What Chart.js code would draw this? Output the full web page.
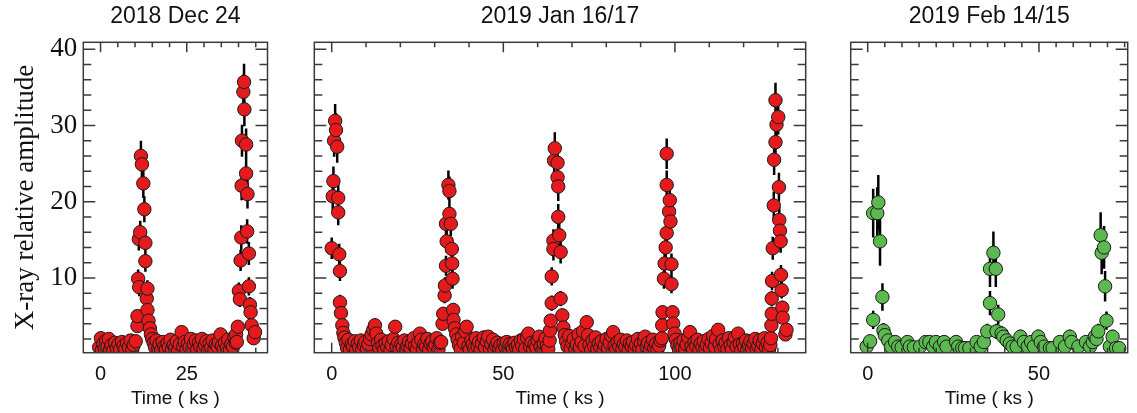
<!DOCTYPE html>
<html>
<head>
<meta charset="utf-8">
<script src="https://cdn.jsdelivr.net/npm/chart.js@4/dist/chart.umd.min.js"></script>
<style>
  body { margin: 0; background: #fff; }
  #wrap { position: relative; width: 1137px; height: 413px; }
  #wrap canvas { position: absolute; top: 0; }
</style>
</head>
<body>
<div id="wrap">
  <canvas id="dec24" width="290" height="413" style="left:0px"></canvas>
  <canvas id="jan16" width="530" height="413" style="left:290px"></canvas>
  <canvas id="feb14" width="317" height="413" style="left:820px"></canvas>
</div>
<script>
// ---- data (time in ks, relative amplitude, 1-sigma error) ----
const yTicks = [10, 20, 30, 40];

// 2018 Dec 24
const dec24Time = [
  -0.4, 0.1, 0.4, 0.8, 1.2, 1.6, 2.0, 2.4, 2.8, 3.2, 3.7, 4.2, 4.7, 5.2, 5.7, 6.2, 6.7, 7.2, 7.7, 8.2, 8.7, 9.2, 9.6,
  10.2, 10.7, 10.7, 10.9, 11.1, 11.2, 11.5, 11.7, 12.0, 12.4, 12.7, 13.0, 13.0, 13.4, 13.6, 13.6, 13.9, 14.3, 14.6, 15.0, 15.4, 15.8,
  16.2, 16.7, 17.1, 17.6, 18.0, 18.5, 18.9, 19.4, 19.8, 20.3, 20.7, 21.2, 21.6, 22.1, 22.5, 23.0, 23.5, 24.0, 24.4, 24.9,
  25.3, 25.8, 26.2, 26.7, 27.1, 27.6, 28.0, 28.5, 28.9, 29.4, 29.8, 30.3, 30.7, 31.2, 31.6, 32.1, 32.5, 33.0, 33.4, 33.9,
  34.3, 34.8, 35.2, 35.7, 36.1, 36.6, 37.0, 37.5, 37.9, 38.4, 38.8, 39.2,
  39.3, 39.5, 39.8, 40.1, 40.4, 40.6, 40.8, 40.9, 41.0, 41.4, 41.6, 41.7, 42.2, 42.2, 42.5, 42.6, 43.0, 43.0, 43.3, 43.5, 43.8, 44.4, 44.8
];
const dec24Amp = [
  0.9, 2.1, 0.5, 1.4, 0.7, 1.8, 1.0, 2.0, 0.6, 1.2, 0.5, 1.5, 0.8, 1.3, 0.6, 1.6, 1.1, 0.7, 1.5, 0.9, 1.8, 0.6, 1.2,
  1.7, 3.7, 5.0, 9.9, 15.1, 8.8, 16.0, 26.0, 24.9, 22.4, 19.0, 14.6, 12.2, 7.3, 8.6, 5.8, 4.4, 3.4, 2.6, 2.0, 1.5, 0.9,
  1.8, 0.7, 1.3, 0.5, 1.6, 1.0, 0.6, 1.4, 0.9, 1.9, 0.6, 1.2, 0.8, 1.7, 0.5, 1.3, 2.9, 1.0, 1.6, 0.6,
  1.4, 0.9, 2.0, 0.7, 1.3, 1.8, 0.6, 1.5, 1.0, 2.0, 0.7, 1.2, 1.7, 0.5, 1.4, 0.9, 1.8, 0.6, 1.3, 1.0,
  1.6, 2.6, 1.1, 0.7, 1.5, 0.8, 1.9, 0.6, 1.3, 1.0, 2.2, 1.5,
  2.6, 1.6, 3.6, 8.3, 7.2, 12.3, 15.3, 22.1, 28.0, 34.4, 35.7, 32.1, 27.5, 23.7, 16.1, 21.0, 13.2, 8.9, 6.5, 5.5, 3.8, 2.1, 2.9
];
const dec24Err = [
  0.5, 0.5, 0.5, 0.5, 0.5, 0.5, 0.5, 0.5, 0.5, 0.5, 0.5, 0.5, 0.5, 0.5, 0.5, 0.5, 0.5, 0.5, 0.5, 0.5, 0.5, 0.5, 0.5,
  0.5, 0.7, 0.8, 1.2, 1.5, 1.2, 1.5, 2.0, 2.0, 1.9, 1.7, 1.5, 1.4, 1.0, 1.1, 0.9, 0.8, 0.7, 0.6, 0.5, 0.5, 0.5,
  0.5, 0.5, 0.5, 0.5, 0.5, 0.5, 0.5, 0.5, 0.5, 0.5, 0.5, 0.5, 0.5, 0.5, 0.5, 0.5, 0.7, 0.5, 0.5, 0.5,
  0.5, 0.5, 0.5, 0.5, 0.5, 0.5, 0.5, 0.5, 0.5, 0.5, 0.5, 0.5, 0.5, 0.5, 0.5, 0.5, 0.5, 0.5, 0.5, 0.5,
  0.5, 0.7, 0.5, 0.5, 0.5, 0.5, 0.5, 0.5, 0.5, 0.5, 0.5, 0.5,
  0.6, 0.5, 0.7, 1.1, 1.0, 1.4, 1.6, 1.9, 2.1, 2.3, 2.4, 2.2, 2.1, 2.0, 1.6, 1.9, 1.5, 1.2, 1.0, 0.9, 0.7, 0.6, 0.6
];

// 2019 Jan 16/17
const jan16Time = [
  0.0, 0.3, 0.5, 0.7, 1.0, 1.25, 1.6, 1.9, 1.9, 2.2, 2.4, 2.4, 2.7, 3.1, 3.4, 3.7,
  4.1, 4.5, 4.9, 5.3, 5.8, 6.2, 6.7, 7.1, 7.6, 8.0, 8.5, 8.9, 9.4, 9.8, 10.3, 10.7, 11.2, 11.6, 12.1, 12.6,
  13.0, 13.5, 13.9, 14.4, 14.8, 15.3, 15.7, 16.2, 16.6, 17.1, 17.5, 18.0, 18.5, 18.9, 19.4, 19.8, 20.3, 20.7, 21.2, 21.6,
  22.1, 22.5, 23.0, 23.4, 23.9, 24.3, 24.8, 25.2, 25.7, 26.1, 26.6, 27.0, 27.5, 27.9, 28.4, 28.8, 29.3, 29.7, 30.2, 30.6,
  31.1, 31.5, 31.9,
  32.3, 32.5, 32.9, 33.0, 33.3, 33.3, 33.5, 34.0, 34.3, 34.3, 34.7, 35.0, 35.1, 35.2, 35.4, 35.5, 35.9, 36.3,
  36.7, 37.1, 37.6, 38.0, 38.5, 38.9, 39.3, 39.8, 40.2, 40.7, 41.1, 41.6, 42.0, 42.5, 42.9, 43.4, 43.8, 44.3, 44.7, 45.2,
  45.6, 46.1, 46.5, 47.0, 47.4, 47.9, 48.3, 48.8, 49.2, 49.7, 50.1, 50.6, 51.0, 51.5, 51.9, 52.4, 52.8, 53.3, 53.7, 54.2,
  54.6, 55.1, 55.5, 56.0, 56.4, 56.9, 57.3, 57.8, 58.2, 58.7, 59.1, 59.6, 60.0, 60.5, 60.9, 61.4, 61.8, 62.3, 62.7, 63.1,
  63.5, 63.6, 63.8, 64.1, 64.1, 64.6, 64.6, 64.8, 65.0, 65.8, 65.8, 66.0, 66.0, 66.3, 66.7, 66.7, 67.2, 67.5, 67.9,
  68.3, 68.7, 69.2, 69.6, 70.1, 70.5, 71.0, 71.4, 71.9, 72.3, 72.8, 73.2, 73.7, 74.3, 74.7, 75.1, 75.6, 76.0, 76.5, 76.9,
  77.4, 77.8, 78.3, 78.7, 79.2, 79.6, 80.1, 80.5, 81.0, 81.5, 82.0, 82.4, 82.9, 83.3, 83.8, 84.2, 84.7, 85.1, 85.6, 86.0,
  86.5, 86.9, 87.4, 87.8, 88.3, 88.7, 89.2, 89.6, 90.1, 90.5, 91.0, 91.3, 91.8, 92.2, 92.7, 93.1, 93.6, 94.0, 94.5, 94.9,
  95.4, 95.8,
  96.2, 96.3, 96.4, 96.8, 97.0, 97.3, 97.6, 97.6, 97.6, 98.3, 98.5, 98.7, 99.0, 99.0, 99.3, 99.5, 99.9, 100.3,
  100.7, 101.2, 101.6, 102.1, 102.5, 103.0, 103.4, 103.9, 104.4, 104.8, 105.3, 105.7, 106.2, 106.6, 107.1, 107.5, 108.0, 108.4, 108.9, 109.3,
  109.8, 110.2, 110.7, 111.1, 111.6, 112.0, 112.6, 113.0, 113.5, 113.9, 114.4, 114.8, 115.3, 115.7, 116.2, 116.6, 117.1, 117.5, 118.0, 118.4,
  118.9, 119.3, 119.8, 120.2, 120.7, 121.1, 121.6, 122.0, 122.5, 122.9, 123.4, 123.8, 124.3, 124.7, 125.2, 125.6, 126.1, 126.5, 127.0, 127.4,
  127.8,
  128.0, 128.1, 128.2, 128.2, 128.3, 128.5, 128.8, 128.9, 129.3, 129.3, 129.6, 130.1, 130.3, 130.4, 130.6, 130.8, 130.9, 131.1, 131.3, 131.4, 132.2, 132.5
];
const jan16Amp = [
  13.9, 20.7, 22.7, 28.0, 30.6, 29.4, 27.2, 20.5, 18.6, 13.1, 10.9, 6.8, 5.4, 3.8, 2.8, 2.2,
  1.5, 0.8, 1.9, 0.6, 1.3, 1.0, 1.7, 0.5, 1.4, 0.9, 1.8, 0.6, 1.2, 1.6, 0.7, 1.3, 2.0, 2.6, 3.2, 3.8,
  2.7, 1.5, 0.8, 1.9, 1.1, 0.6, 1.4, 0.9, 1.7, 0.5, 1.2, 2.0, 3.6, 1.0, 1.5, 0.7, 1.3, 0.9, 1.8, 0.5,
  1.1, 1.6, 0.8, 1.4, 2.1, 1.0, 0.6, 1.5, 2.7, 1.9, 0.7, 1.3, 1.0, 2.0, 0.6, 1.4, 1.7, 0.9, 1.2, 2.1,
  0.6, 1.5, 1.6,
  4.0, 5.3, 7.7, 9.0, 11.6, 17.1, 14.8, 22.2, 21.4, 18.4, 17.1, 13.8, 11.9, 9.9, 5.8, 4.5, 3.4, 2.6,
  1.9, 1.2, 0.7, 2.3, 1.5, 3.0, 3.6, 1.1, 0.6, 1.8, 1.3, 0.8, 2.1, 1.0, 1.6, 0.5, 1.4, 2.2, 0.9, 1.7,
  2.3, 0.7, 1.3, 1.9, 0.6, 1.1, 1.5, 0.8, 1.2, 0.5, 1.4, 0.9, 1.6, 0.6, 1.3, 1.0, 0.7, 1.5, 0.9, 1.2,
  0.6, 1.8, 1.1, 2.0, 0.7, 2.2, 2.7, 1.0, 1.5, 0.6, 1.3, 0.9, 1.8, 2.3, 1.0, 0.5, 1.4, 2.1, 1.1, 0.7,
  1.8, 3.1, 4.4, 6.7, 10.2, 14.9, 13.8, 25.4, 27.0, 25.1, 23.2, 22.0, 18.0, 15.6, 13.4, 7.3, 5.1, 3.5, 2.5,
  1.7, 1.0, 2.4, 0.8, 1.5, 2.0, 0.6, 1.3, 2.6, 0.9, 1.6, 3.0, 1.1, 4.2, 2.5, 1.2, 0.6, 1.8, 1.0, 2.2,
  0.7, 1.4, 0.9, 1.7, 0.5, 1.2, 2.0, 0.8, 1.5, 2.4, 2.9, 1.1, 0.6, 1.6, 1.0, 1.9, 0.7, 1.3, 0.9, 1.8,
  0.5, 1.4, 1.0, 1.6, 0.7, 1.2, 2.0, 0.8, 1.4, 0.6, 1.7, 2.3, 1.0, 1.5, 0.6, 1.2, 1.9, 0.8, 1.4, 0.6,
  1.1, 1.8,
  2.1, 3.8, 5.5, 9.9, 11.9, 14.0, 15.9, 22.2, 26.3, 18.7, 20.2, 17.4, 11.8, 9.2, 5.5, 4.0, 2.7, 1.9,
  1.2, 0.6, 1.5, 0.9, 1.8, 0.7, 1.3, 2.2, 2.9, 1.0, 0.6, 1.6, 1.1, 1.9, 0.5, 1.4, 0.9, 1.7, 0.7, 1.2,
  2.0, 0.8, 1.5, 2.4, 1.0, 2.0, 3.2, 1.3, 0.6, 1.8, 1.0, 1.5, 0.7, 2.1, 1.2, 0.6, 1.6, 2.2, 1.0, 2.7,
  1.3, 0.5, 1.4, 0.9, 1.8, 0.6, 1.2, 1.7, 0.8, 1.4, 2.0, 0.7, 1.1, 1.8, 0.6, 1.4, 2.1, 0.9, 1.5, 0.6,
  1.2,
  2.1, 3.8, 5.3, 7.3, 9.6, 13.9, 19.5, 25.5, 27.8, 33.3, 30.1, 31.1, 21.9, 17.6, 16.2, 14.8, 10.4, 8.4, 6.1, 4.8, 2.6, 3.2
];
const jan16Err = [
  1.4, 1.8, 1.9, 2.1, 2.2, 2.2, 2.1, 1.8, 1.7, 1.4, 1.3, 1.0, 0.9, 0.7, 0.6, 0.5,
  0.5, 0.5, 0.5, 0.5, 0.5, 0.5, 0.5, 0.5, 0.5, 0.5, 0.5, 0.5, 0.5, 0.5, 0.5, 0.5, 0.5, 0.7, 0.7, 0.8,
  0.7, 0.5, 0.5, 0.5, 0.5, 0.5, 0.5, 0.5, 0.5, 0.5, 0.5, 0.5, 0.8, 0.5, 0.5, 0.5, 0.5, 0.5, 0.5, 0.5,
  0.5, 0.5, 0.5, 0.5, 0.5, 0.5, 0.5, 0.5, 0.7, 0.5, 0.5, 0.5, 0.5, 0.5, 0.5, 0.5, 0.5, 0.5, 0.5, 0.5,
  0.5, 0.5, 0.5,
  0.7, 0.9, 1.0, 1.1, 1.3, 1.6, 1.5, 1.9, 1.9, 1.7, 1.6, 1.5, 1.4, 1.3, 0.9, 0.8, 0.7, 0.6,
  0.5, 0.5, 0.5, 0.5, 0.5, 0.7, 0.8, 0.5, 0.5, 0.5, 0.5, 0.5, 0.5, 0.5, 0.5, 0.5, 0.5, 0.5, 0.5, 0.5,
  0.5, 0.5, 0.5, 0.5, 0.5, 0.5, 0.5, 0.5, 0.5, 0.5, 0.5, 0.5, 0.5, 0.5, 0.5, 0.5, 0.5, 0.5, 0.5, 0.5,
  0.5, 0.5, 0.5, 0.5, 0.5, 0.5, 0.7, 0.5, 0.5, 0.5, 0.5, 0.5, 0.5, 0.5, 0.5, 0.5, 0.5, 0.5, 0.5, 0.5,
  0.5, 0.6, 0.8, 1.0, 1.2, 1.5, 1.5, 2.0, 2.1, 2.0, 2.0, 1.9, 1.7, 1.6, 1.5, 1.0, 0.9, 0.7, 0.6,
  0.5, 0.5, 0.5, 0.5, 0.5, 0.5, 0.5, 0.5, 0.7, 0.5, 0.5, 0.7, 0.5, 0.9, 0.7, 0.5, 0.5, 0.5, 0.5, 0.5,
  0.5, 0.5, 0.5, 0.5, 0.5, 0.5, 0.5, 0.5, 0.5, 0.5, 0.7, 0.5, 0.5, 0.5, 0.5, 0.5, 0.5, 0.5, 0.5, 0.5,
  0.5, 0.5, 0.5, 0.5, 0.5, 0.5, 0.5, 0.5, 0.5, 0.5, 0.5, 0.5, 0.5, 0.5, 0.5, 0.5, 0.5, 0.5, 0.5, 0.5,
  0.5, 0.5,
  0.5, 0.7, 0.9, 1.3, 1.4, 1.5, 1.6, 1.9, 2.0, 1.7, 1.8, 1.7, 1.4, 1.2, 0.9, 0.8, 0.6, 0.5,
  0.5, 0.5, 0.5, 0.5, 0.5, 0.5, 0.5, 0.5, 0.7, 0.5, 0.5, 0.5, 0.5, 0.5, 0.5, 0.5, 0.5, 0.5, 0.5, 0.5,
  0.5, 0.5, 0.5, 0.5, 0.5, 0.5, 0.8, 0.5, 0.5, 0.5, 0.5, 0.5, 0.5, 0.5, 0.5, 0.5, 0.5, 0.5, 0.5, 0.7,
  0.5, 0.5, 0.5, 0.5, 0.5, 0.5, 0.5, 0.5, 0.5, 0.5, 0.5, 0.5, 0.5, 0.5, 0.5, 0.5, 0.5, 0.5, 0.5, 0.5,
  0.5,
  0.5, 0.7, 0.9, 1.0, 1.2, 1.5, 1.8, 2.0, 2.1, 2.3, 2.2, 2.3, 1.9, 1.7, 1.6, 1.5, 1.3, 1.1, 0.9, 0.8, 0.6, 0.7
];

// 2019 Feb 14/15
const feb14Time = [
  -0.3, 0.7, 1.6, 1.6, 2.8, 3.1, 3.6, 4.3, 4.6, 5.0, 6.0, 6.8, 8.0, 8.9, 9.9, 11.6, 12.3, 13.5, 15.3, 16.9,
  18.0, 19.1, 19.9, 21.1, 22.3, 23.0, 25.8, 26.4, 27.6, 28.4, 29.7, 31.8, 33.0, 33.9, 34.9, 35.7, 35.7, 36.7, 37.4, 37.6,
  38.1, 39.1, 39.6, 40.6, 41.5, 42.3, 43.5, 44.6, 45.6, 46.7, 47.7, 48.5, 49.8, 50.5, 51.5, 53.2, 54.0, 56.1, 57.6, 59.0,
  59.5, 61.5, 63.7, 64.9, 65.7, 66.3, 66.8, 67.3, 68.0, 68.3, 69.0, 69.3, 69.7, 70.7, 71.5, 72.5, 73.4
];
const feb14Amp = [
  1.0, 1.7, 4.5, 18.5, 18.5, 19.9, 14.8, 7.5, 3.1, 2.5, 1.8, 1.0, 1.6, 1.0, 0.9, 1.6, 1.0, 0.9, 1.0, 1.6,
  1.6, 1.0, 1.6, 1.0, 1.6, 1.0, 1.6, 1.0, 0.8, 0.8, 0.8, 1.6, 1.0, 1.6, 3.0, 6.7, 11.2, 13.3, 11.2, 3.0,
  5.2, 2.7, 2.3, 1.8, 1.4, 1.0, 1.0, 2.3, 1.6, 1.0, 1.6, 1.0, 2.3, 1.6, 1.0, 0.8, 0.8, 1.6, 1.0, 2.3,
  1.6, 1.0, 1.6, 1.0, 1.6, 2.3, 2.0, 3.0, 15.6, 13.3, 14.0, 8.9, 4.4, 1.0, 2.3, 0.8, 0.8
];
const feb14Err = [
  0.6, 0.7, 1.2, 3.2, 3.4, 3.6, 3.2, 1.8, 1.0, 0.9, 0.8, 0.7, 0.8, 0.7, 0.7, 0.8, 0.7, 0.7, 0.7, 0.8,
  0.8, 0.7, 0.8, 0.7, 0.8, 0.7, 0.8, 0.7, 0.6, 0.6, 0.6, 0.8, 0.7, 0.8, 1.0, 1.6, 2.4, 2.8, 2.4, 1.0,
  1.3, 1.0, 0.9, 0.8, 0.8, 0.7, 0.7, 0.9, 0.8, 0.7, 0.8, 0.7, 0.9, 0.8, 0.7, 0.6, 0.6, 0.8, 0.7, 0.9,
  0.8, 0.7, 0.8, 0.7, 0.8, 0.9, 0.8, 1.0, 3.0, 2.8, 2.8, 2.0, 1.2, 0.7, 0.9, 0.6, 0.6
];

const SANS = "'Liberation Sans', Arial, Helvetica, sans-serif";
const SERIF = "'Liberation Serif', 'Times New Roman', serif";
const INK = '#111';

// vertical error bars, drawn behind the markers
const errorBars = {
  id: 'errorBars',
  beforeDatasetsDraw(chart) {
    const { ctx, chartArea: a, scales: { x, y } } = chart;
    const ds = chart.data.datasets[0];
    ctx.save();
    ctx.beginPath();
    ctx.rect(a.left, a.top, a.width, a.height);
    ctx.clip();
    ctx.strokeStyle = '#000';
    ctx.lineWidth = 2.5;
    ctx.beginPath();
    ds.data.forEach((p, i) => {
      const e = ds.err[i];
      if (!e) return;
      const px = x.getPixelForValue(p.x);
      ctx.moveTo(px, y.getPixelForValue(p.y - e));
      ctx.lineTo(px, y.getPixelForValue(p.y + e));
    });
    ctx.stroke();
    ctx.restore();
  }
};

// box around the plot with inward ticks on all four sides
function frame(xMinor, xMajor) {
  return {
    id: 'frame',
    afterDatasetsDraw(chart) {
      const { ctx, chartArea: a, scales: { x, y } } = chart;
      ctx.save();
      ctx.strokeStyle = '#3a3a3a';
      ctx.lineWidth = 1.5;
      ctx.strokeRect(a.left, a.top, a.width, a.height);
      ctx.beginPath();
      for (let v = Math.ceil(x.min / xMinor) * xMinor; v < x.max; v += xMinor) {
        const px = x.getPixelForValue(v);
        if (px - a.left < 2) continue;
        const len = v % xMajor === 0 ? 10 : 5;
        ctx.moveTo(px, a.bottom); ctx.lineTo(px, a.bottom - len);
        ctx.moveTo(px, a.top); ctx.lineTo(px, a.top + len);
      }
      for (let v = 2; v < y.max; v += 2) {
        const py = y.getPixelForValue(v);
        const len = v % 10 === 0 ? 12 : 8;
        ctx.moveTo(a.left, py); ctx.lineTo(a.left + len, py);
        ctx.moveTo(a.right, py); ctx.lineTo(a.right - len, py);
      }
      ctx.stroke();
      ctx.restore();
    }
  };
}

function makePanel(id, o) {
  const pts = o.time.map((t, i) => ({ x: t, y: o.amp[i] }));
  return new Chart(document.getElementById(id), {
    type: 'scatter',
    data: {
      datasets: [{
        data: pts,
        err: o.err,
        backgroundColor: o.color,
        borderColor: '#1a1a1a',
        borderWidth: 1,
        pointRadius: 6.7,
        pointHoverRadius: 6.7,
        clip: 0
      }]
    },
    options: {
      responsive: false,
      animation: false,
      events: [],
      layout: { autoPadding: false, padding: { left: 0, right: o.padRight, top: 0, bottom: 0 } },
      plugins: {
        legend: { display: false },
        tooltip: { enabled: false },
        title: {
          display: true,
          text: o.title,
          fullSize: false,
          color: INK,
          font: { family: SANS, size: 23, weight: 'normal' },
          padding: { top: 3, bottom: 11.7 }
        }
      },
      scales: {
        x: {
          type: 'linear',
          min: o.xMin,
          max: o.xMax,
          afterBuildTicks: s => { s.ticks = o.xTicks.map(v => ({ value: v })); },
          afterFit: s => { s.height = 60.3; },
          grid: { display: false, drawTicks: false },
          border: { display: false },
          ticks: { color: INK, font: { family: SANS, size: 20 }, padding: 10, maxRotation: 0 },
          title: {
            display: true,
            text: 'Time ( ks )',
            color: INK,
            font: { family: SANS, size: 19 },
            padding: { top: 0, bottom: 3 }
          }
        },
        y: {
          type: 'linear',
          min: 0.2,
          max: 40.9,
          afterBuildTicks: s => { s.ticks = yTicks.map(v => ({ value: v })); },
          afterFit: s => { s.width = o.yWidth; },
          grid: { display: false, drawTicks: false },
          border: { display: false },
          ticks: { display: o.yLabels, color: INK, font: { family: SERIF, size: 27 }, padding: 6 },
          title: {
            display: o.yLabels,
            text: 'X-ray relative amplitude',
            color: INK,
            font: { family: SERIF, size: 27 },
            padding: { top: 10, bottom: 0 }
          }
        }
      }
    },
    plugins: [errorBars, frame(o.xMinor, o.xMajor)]
  });
}

makePanel('dec24', {
  title: '2018 Dec 24', time: dec24Time, amp: dec24Amp, err: dec24Err, color: '#e41a1c',
  xMin: -5, xMax: 48.4, xTicks: [0, 25], xMinor: 5, xMajor: 25,
  yWidth: 83.3, padRight: 22.5, yLabels: true
});
makePanel('jan16', {
  title: '2019 Jan 16/17', time: jan16Time, amp: jan16Amp, err: jan16Err, color: '#e41a1c',
  xMin: -5.07, xMax: 138.1, xTicks: [0, 50, 100], xMinor: 10, xMajor: 50,
  yWidth: 24.3, padRight: 14.3, yLabels: false
});
makePanel('feb14', {
  title: '2019 Feb 14/15', time: feb14Time, amp: feb14Amp, err: feb14Err, color: '#5cb94f',
  xMin: -4.96, xMax: 75.9, xTicks: [0, 50], xMinor: 5, xMajor: 50,
  yWidth: 30.7, padRight: 9.3, yLabels: false
});
</script>
</body>
</html>
